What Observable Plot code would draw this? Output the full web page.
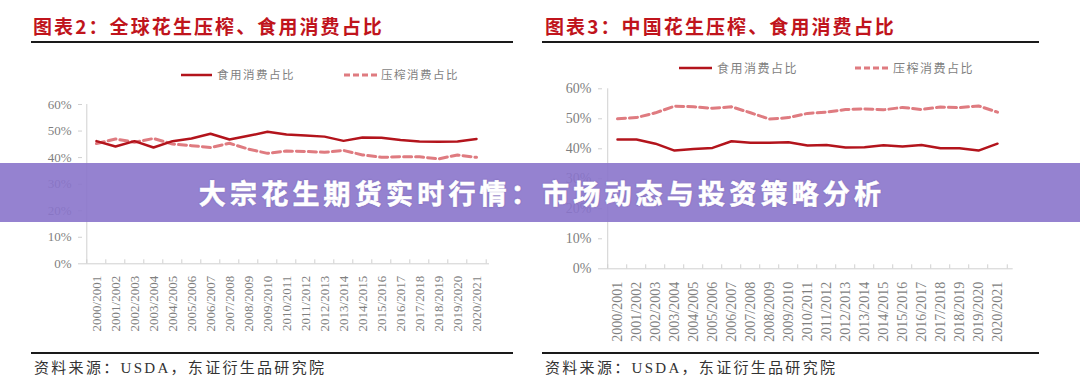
<!DOCTYPE html>
<html><head><meta charset="utf-8">
<script src="https://cdn.jsdelivr.net/npm/d3@7"></script>
<script src="https://cdn.jsdelivr.net/npm/@observablehq/plot@0.6"></script>
<style>
html,body{margin:0;padding:0;background:#fff;}
#page{position:relative;width:1080px;height:386px;overflow:hidden;}
.title{position:absolute;top:16px;font-family:"Noto Sans CJK SC",sans-serif;font-weight:700;font-size:19px;color:#c0141c;letter-spacing:2.1px;line-height:1;white-space:nowrap;}
.hr{position:absolute;height:2px;background:#1a1a1a;}
.src{position:absolute;top:361px;font-family:"Liberation Serif","Noto Sans CJK SC",serif;font-size:15px;color:#333;letter-spacing:2.3px;line-height:1;white-space:nowrap;}
.leg{position:absolute;display:flex;align-items:center;font-family:"Noto Sans CJK SC",sans-serif;color:#7f7f7f;white-space:nowrap;line-height:1;}
.leg svg{display:block;}
.plot{position:absolute;}
.plot svg text{font-family:"Liberation Serif",serif;}
#banner{position:absolute;left:0;top:163px;width:1080px;height:59px;background:rgba(138,116,203,0.9);display:flex;align-items:center;justify-content:center;}
#banner span{font-family:"Noto Sans CJK SC",sans-serif;font-weight:700;font-size:27px;color:#fff;letter-spacing:4.2px;line-height:1;margin-left:4px;-webkit-text-stroke:0.6px #fff;text-shadow:0 0 2px rgba(60,40,120,0.45);}
</style></head>
<body><div id="page"></div>
<script>
const categories = ["2000/2001","2001/2002","2002/2003","2003/2004","2004/2005","2005/2006","2006/2007","2007/2008","2008/2009","2009/2010","2010/2011","2011/2012","2012/2013","2013/2014","2014/2015","2015/2016","2016/2017","2017/2018","2018/2019","2019/2020","2020/2021"];
// 图表2 全球 (%)
const globalFood  = [46.2,44.2,46.2,43.8,46.2,47.2,49.0,46.8,48.2,49.7,48.7,48.3,47.9,46.3,47.6,47.5,46.6,46.1,46.0,46.1,47.0];
const globalCrush = [45.3,47.0,45.8,47.2,45.1,44.5,43.8,45.4,43.2,41.6,42.5,42.3,42.0,42.7,41.0,40.1,40.3,40.3,39.5,41.0,40.1];
// 图表3 中国 (%)
const chinaFood  = [43.1,43.1,41.7,39.4,39.9,40.3,42.5,42.0,42.0,42.2,41.1,41.3,40.4,40.5,41.2,40.8,41.3,40.2,40.2,39.4,41.7];
const chinaCrush = [50.0,50.4,52.0,54.2,54.0,53.5,54.0,52.0,49.9,50.4,51.8,52.2,53.1,53.3,53.0,53.8,53.1,53.9,53.7,54.3,52.2];
const yTicks = [0,0.1,0.2,0.3,0.4,0.5,0.6];
const seriesNames = ["食用消费占比","压榨消费占比"];
const titles = ["图表2：全球花生压榨、食用消费占比","图表3：中国花生压榨、食用消费占比"];
const sourceText = "资料来源：USDA，东证衍生品研究院";
const bannerText = "大宗花生期货实时行情：市场动态与投资策略分析";

const FOOD = "#b3141c", CRUSH = "#df7b80", AX = "#d0d0d0", TXT = "#7f7f7f";
const SERIF = "Liberation Serif";
const page = document.getElementById("page");

function makeChart(food, crush, o) {
  const n = categories.length;
  const step = (o.width - o.ml - o.mr) / n;
  const rows = categories.map((c, i) => ({cat: c, food: food[i] / 100, crush: crush[i] / 100}));
  return Plot.plot({
    width: o.width, height: o.height,
    marginLeft: o.ml, marginRight: o.mr, marginTop: o.mt, marginBottom: o.mb,
    style: {fontFamily: SERIF, fontSize: o.fs + "px", color: TXT, background: "transparent", overflow: "visible"},
    x: {type: "point", domain: categories, padding: 0.5},
    y: {domain: [0, 0.6]},
    marks: [
      Plot.ruleY([0], {stroke: AX}),
      Plot.ruleX([categories[0]], {y1: 0, y2: 0.6, dx: -step / 2, stroke: AX}),
      Plot.ruleX(categories, {x: d => d, y1: 0, y2: 0, dx: -step / 2, insetBottom: 4, stroke: AX}),
      Plot.ruleX([categories[n - 1]], {x: d => d, y1: 0, y2: 0, dx: step / 2, insetBottom: 4, stroke: AX}),
      Plot.axisY({ticks: yTicks, tickFormat: d => Math.round(d * 100) + "%", tickSize: 4, tickPadding: 7, stroke: AX, fill: TXT, label: null, fontSize: o.fs, fontFamily: SERIF}),
      Plot.axisX({tickRotate: -90, tickSize: 0, tickPadding: o.xpad, label: null, fill: TXT, fontSize: o.fs, fontFamily: SERIF}),
      Plot.line(rows, {x: "cat", y: "crush", stroke: CRUSH, strokeWidth: 3, strokeDasharray: "8,4"}),
      Plot.line(rows, {x: "cat", y: "food", stroke: FOOD, strokeWidth: 2.5})
    ]
  });
}

function place(el, left, top) {
  const w = document.createElement("div");
  w.className = "plot"; w.style.left = left + "px"; w.style.top = top + "px";
  w.appendChild(el); page.appendChild(w);
}
function addDiv(cls, text, css) {
  const d = document.createElement("div");
  d.className = cls; if (text != null) d.textContent = text;
  Object.assign(d.style, css); page.appendChild(d); return d;
}
function sample(w, color, dash, sw) {
  const ns = "http://www.w3.org/2000/svg";
  const s = document.createElementNS(ns, "svg");
  s.setAttribute("width", w); s.setAttribute("height", 6);
  const l = document.createElementNS(ns, "line");
  l.setAttribute("x1", 0); l.setAttribute("x2", w); l.setAttribute("y1", 3); l.setAttribute("y2", 3);
  l.setAttribute("stroke", color); l.setAttribute("stroke-width", sw);
  if (dash) l.setAttribute("stroke-dasharray", dash);
  s.appendChild(l); return s;
}
function legend(x1, x2, y, fs, sw1, sw2) {
  const a = addDiv("leg", null, {left: x1 + "px", top: (y - 7) + "px", height: "14px", fontSize: fs + "px", letterSpacing: "1.5px"});
  a.appendChild(sample(sw1, FOOD, null, 2.5));
  const t1 = document.createElement("span"); t1.textContent = seriesNames[0]; t1.style.marginLeft = "5px"; a.appendChild(t1);
  const b = addDiv("leg", null, {left: x2 + "px", top: (y - 7) + "px", height: "14px", fontSize: fs + "px", letterSpacing: "1.5px"});
  b.appendChild(sample(sw2, CRUSH, "6,3", 3));
  const t2 = document.createElement("span"); t2.textContent = seriesNames[1]; t2.style.marginLeft = "2px"; b.appendChild(t2);
}

// Left panel
addDiv("title", titles[0], {left: "33px"});
addDiv("hr", null, {left: "31px", width: "482px", top: "41px"});
legend(181, 344, 75, 11.5, 31, 35);
place(makeChart(globalFood, globalCrush, {width: 540, height: 250, ml: 82, mr: 51, mt: 10, mb: 80.7, fs: 13, xpad: 12}), 0, 94);
addDiv("hr", null, {left: "31px", width: "482px", top: "352px"});
addDiv("src", sourceText, {left: "34px"});

// Right panel
addDiv("title", titles[1], {left: "545px"});
addDiv("hr", null, {left: "542px", width: "497px", top: "41px"});
legend(679, 855, 68, 12, 33, 36);
place(makeChart(chinaFood, chinaCrush, {width: 540, height: 272, ml: 62, mr: 67.3, mt: 10.3, mb: 81.7, fs: 14, xpad: 13}), 540, 78);
addDiv("hr", null, {left: "542px", width: "497px", top: "352px"});
addDiv("src", sourceText, {left: "545px"});

// Banner overlay
const ban = addDiv("", null, {});
ban.id = "banner";
const bs = document.createElement("span"); bs.textContent = bannerText; ban.appendChild(bs);
</script>
</body></html>
